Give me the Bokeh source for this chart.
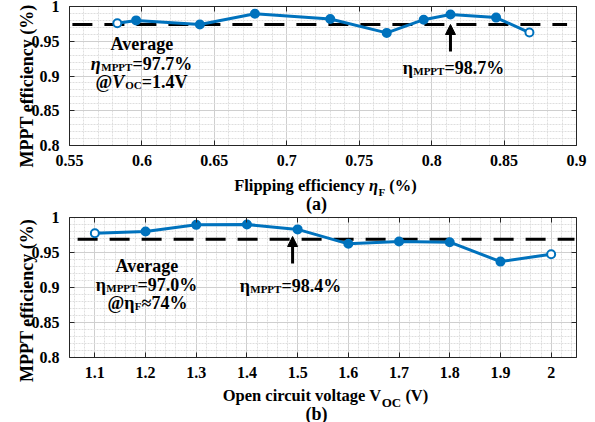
import numpy as np
from bokeh.plotting import figure
from bokeh.models import (Label, Arrow, NormalHead, LinearAxis, FixedTicker, Grid, Range1d)
from bokeh.embed import file_html
from bokeh.resources import INLINE

# ---------------- data (a) ----------------
flip_eff = [0.583, 0.596, 0.640, 0.678, 0.730, 0.769, 0.7945, 0.813, 0.8445, 0.8675]
mppt_eff_a = [0.976, 0.980, 0.974, 0.9895, 0.982, 0.962, 0.981, 0.9885, 0.984, 0.9625]
avg_a = 0.974
avg_a_x = [0.552, 0.8935]
peak_a_x = 0.813
xticks_a = [0.55, 0.6, 0.65, 0.7, 0.75, 0.8, 0.85, 0.9]
xlabels_a = ["0.55", "0.6", "0.65", "0.7", "0.75", "0.8", "0.85", "0.9"]

# ---------------- data (b) ----------------
voc = [1.1, 1.2, 1.3, 1.4, 1.5, 1.6, 1.7, 1.8, 1.9, 2.0]
mppt_eff_b = [0.9776, 0.980, 0.9895, 0.990, 0.983, 0.9624, 0.9657, 0.9647, 0.937, 0.9476]
avg_b = 0.969
avg_b_x = [1.066, 2.046]
peak_b_x = 1.49
xticks_b = [1.1, 1.2, 1.3, 1.4, 1.5, 1.6, 1.7, 1.8, 1.9, 2.0]
xlabels_b = ["1.1", "1.2", "1.3", "1.4", "1.5", "1.6", "1.7", "1.8", "1.9", "2"]

yticks = [0.8, 0.85, 0.9, 0.95, 1.0]
ylabels = ["0.8", "0.85", "0.9", "0.95", "1"]

FONT = "Liberation Serif"
BLUE = "#0072BD"
EDGE = "#262626"
WW, HH = 595, 422

# Times-Bold advance widths (1/1000 em) for laying out rich labels
W = {' ': 250, 'A': 722, 'v': 500, 'e': 444, 'r': 444, 'a': 500, 'g': 500, 'M': 944, 'P': 611,
     'T': 667, '=': 570, '.': 250, '%': 1000, '@': 930, 'V': 722, 'O': 778, 'C': 722, 'F': 611,
     '≈': 549, 'η': 580, '(': 333, ')': 333, 'l': 278, 'i': 278, 'p': 556, 'n': 556, 'f': 333,
     'c': 444, 'y': 500, 'o': 500, 'u': 556, 't': 333, 'b': 556}
for d in "0123456789":
    W[d] = 500


def tw(t, size):
    return sum(W.get(ch, 500) for ch in t) * size / 1000.0


# one canvas; each sub-plot gets its own pair of ranges so its box sits at fixed pixels
p = figure(width=WW, height=HH, x_range=(0, WW), y_range=(0, HH), output_backend="svg",
           toolbar_location=None, x_axis_type=None, y_axis_type=None,
           min_border_left=0, min_border_right=0, min_border_top=0, min_border_bottom=0)
p.outline_line_color = None
p.background_fill_color = "white"
p.border_fill_color = "white"


class Panel:
    def __init__(self, name, xlim, ylim, box_l, box_r, box_t, box_b):
        self.xn, self.yn = "x_" + name, "y_" + name
        self.xlim, self.ylim = xlim, ylim
        self.L, self.R, self.T, self.B = box_l, box_r, box_t, box_b
        kx = (xlim[1] - xlim[0]) / (box_r - box_l)
        ky = (ylim[1] - ylim[0]) / (box_b - box_t)
        p.extra_x_ranges[self.xn] = Range1d(xlim[0] - box_l * kx, xlim[1] + (WW - box_r) * kx)
        p.extra_y_ranges[self.yn] = Range1d(ylim[0] - (HH - box_b) * ky, ylim[1] + box_t * ky)
        self.rn = dict(x_range_name=self.xn, y_range_name=self.yn)

    def fx(self, px):
        return self.xlim[0] + (px - self.L) / (self.R - self.L) * (self.xlim[1] - self.xlim[0])

    def fy(self, py):
        return self.ylim[1] - (py - self.T) / (self.B - self.T) * (self.ylim[1] - self.ylim[0])


def dress(P, xt, xl, xminor, yminor):
    xtk = FixedTicker(ticks=xt, minor_ticks=xminor)
    ytk = FixedTicker(ticks=yticks, minor_ticks=yminor)
    gx = Grid(dimension=0, ticker=xtk, bounds=P.xlim, cross_bounds=P.ylim, **P.rn)
    gy = Grid(dimension=1, ticker=ytk, bounds=P.ylim, cross_bounds=P.xlim, **P.rn)
    for g in (gx, gy):
        g.grid_line_color = "#cfcfcf"
        g.grid_line_width = 1
        g.minor_grid_line_color = "#dedede"
        g.minor_grid_line_dash = "2 1"
        p.add_layout(g)
    below = LinearAxis(ticker=xtk, fixed_location=P.ylim[0], bounds=P.xlim,
                       major_label_overrides={v: s for v, s in zip(xt, xl)}, **P.rn)
    above = LinearAxis(ticker=xtk, fixed_location=P.ylim[1], bounds=P.xlim, **P.rn)
    left = LinearAxis(ticker=ytk, fixed_location=P.xlim[0], bounds=P.ylim,
                      major_label_overrides={v: s for v, s in zip(yticks, ylabels)}, **P.rn)
    right = LinearAxis(ticker=ytk, fixed_location=P.xlim[1], bounds=P.ylim, **P.rn)
    for ax in (below, above, left, right):
        ax.axis_line_color = EDGE
        ax.axis_line_width = 1
        ax.major_tick_line_color = EDGE
        ax.major_tick_in = 5
        ax.major_tick_out = 0
        ax.minor_tick_line_color = None
        ax.major_label_text_font = FONT
        ax.major_label_text_font_style = "bold"
        ax.major_label_text_font_size = "16px"
        ax.major_label_text_color = "black"
    above.major_label_text_color = None
    right.major_label_text_color = None
    below.major_label_standoff = 5
    left.major_label_standoff = 6
    p.add_layout(below, "below")
    p.add_layout(above, "above")
    p.add_layout(left, "left")
    p.add_layout(right, "right")


def rich(P, cx, base, segs):
    total = sum(tw(t, s) for t, s, st, dy in segs)
    x = cx - total / 2.0
    for t, s, st, dy in segs:
        lead = len(t) - len(t.lstrip(" "))
        x += tw(" " * lead, s)
        p.add_layout(Label(x=P.fx(cx), y=P.fy(base), x_offset=x - cx, y_offset=-dy,
                           text=t.strip(" "), text_font=FONT, text_font_size=f"{s}px",
                           text_font_style=st, text_baseline="alphabetic",
                           text_align="left", text_color="black", **P.rn))
        x += tw(t.lstrip(" "), s)


def ytitle(P, cx, cy):
    p.add_layout(Label(x=P.fx(cx), y=P.fy(cy), text="MPPT efficiency (%)", angle=np.pi / 2,
                       text_align="center", text_baseline="middle", text_font=FONT,
                       text_font_size="18px", text_font_style="bold", text_color="black",
                       **P.rn))


def series(P, xs, ys, avg, avg_x, peak_x, tip, tail):
    p.line(avg_x, [avg, avg], line_color="black", line_width=3, line_dash="20 12", **P.rn)
    p.line(xs, ys, line_color=BLUE, line_width=3, **P.rn)
    p.scatter(xs[1:-1], ys[1:-1], size=8, fill_color=BLUE, line_color=BLUE, line_width=2,
              **P.rn)
    p.scatter([xs[0], xs[-1]], [ys[0], ys[-1]], size=8, fill_color="white", line_color=BLUE,
              line_width=2, **P.rn)
    p.add_layout(Arrow(end=NormalHead(size=10, fill_color="black", line_color="black"),
                       x_start=peak_x, y_start=tail, x_end=peak_x, y_end=tip,
                       line_color="black", line_width=3, **P.rn))


# ---------------- sub-plot (a) ----------------
A = Panel("a", (0.55, 0.9), (0.8, 1.0), 69, 576, 6, 145)
dress(A, xticks_a, xlabels_a, [round(0.55 + 0.01 * i, 3) for i in range(36)],
      [round(0.8 + 0.01 * i, 3) for i in range(21)])
series(A, flip_eff, mppt_eff_a, avg_a, avg_a_x, peak_a_x, A.fy(24), A.fy(51))
rich(A, 142, 43, [("Average", 18, "bold", 0)])
rich(A, 141, 63, [("η", 18, "bold italic", 0), ("MPPT", 11, "bold", 3),
                  ("=97.7%", 18, "bold", 0)])
rich(A, 141, 81, [("@", 18, "bold", 0), ("V", 18, "bold italic", 0),
                  ("OC", 11, "bold", 3), ("=1.4V", 18, "bold", 0)])
rich(A, 453, 67, [("η", 18, "bold", 0), ("MPPT", 11, "bold", 3), ("=98.7%", 18, "bold", 0)])
rich(A, 325, 185, [("Flipping efficiency ", 16.5, "bold", 0),
                   ("η", 16.5, "bold italic", 0), ("F", 11, "bold", 6),
                   (" (%)", 16.5, "bold", 0)])
rich(A, 316, 203, [("(a)", 18, "bold", 0)])
ytitle(A, 26, 85.5)

# ---------------- sub-plot (b) ----------------
B = Panel("b", (1.05, 2.05), (0.8, 1.0), 69, 576, 217, 357)
dress(B, xticks_b, xlabels_b, [round(1.06 + 0.02 * i, 3) for i in range(50)],
      [round(0.8 + 0.01 * i, 3) for i in range(21)])
series(B, voc, mppt_eff_b, avg_b, avg_b_x, peak_b_x, B.fy(236), B.fy(263))
rich(B, 147, 265, [("Average", 18, "bold", 0)])
rich(B, 146, 284, [("η", 18, "bold", 0), ("MPPT", 11, "bold", 3), ("=97.0%", 18, "bold", 0)])
rich(B, 147, 302, [("@η", 18, "bold", 0), ("F", 11, "bold", 3), ("≈74%", 18, "bold", 0)])
rich(B, 290, 285, [("η", 18, "bold", 0), ("MPPT", 11, "bold", 3), ("=98.4%", 18, "bold", 0)])
rich(B, 325, 395, [("Open circuit voltage V", 16.5, "bold", 0),
                   ("OC", 13, "bold", 7), (" (V)", 16.5, "bold", 0)])
rich(B, 316, 413, [("(b)", 18, "bold", 0)])
ytitle(B, 26, 300)

open("out.html", "w").write(file_html(p, INLINE))
